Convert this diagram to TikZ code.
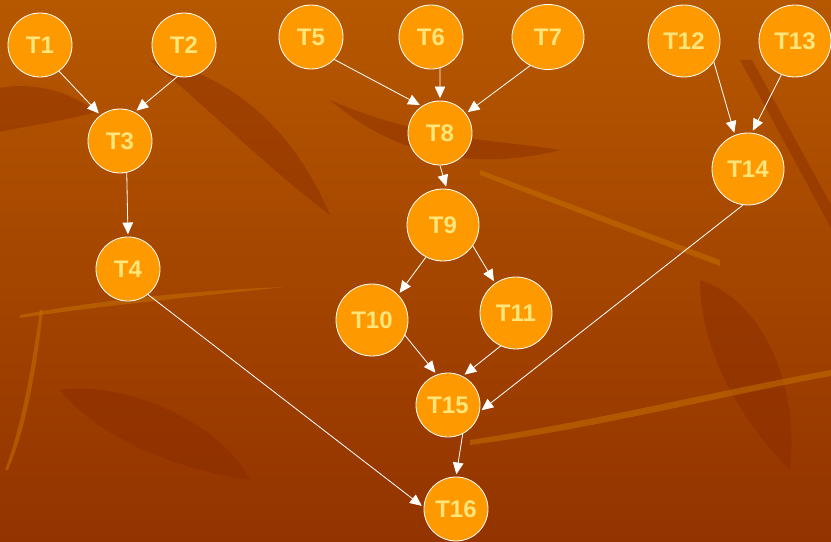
\documentclass[tikz,border=0pt]{standalone}
\usepackage{fontspec}
\setmainfont{Liberation Sans}
\usepackage{xcolor}
\usepackage{tikz}
\usetikzlibrary{arrows.meta,shapes.geometric}
\definecolor{bgtop}{HTML}{B65800}
\definecolor{bgbottom}{HTML}{933300}
\definecolor{leafdark}{HTML}{862800}
\definecolor{leaflight}{HTML}{C87400}
\definecolor{taskfill}{HTML}{FF9900}
\definecolor{tasktext}{HTML}{FFE57A}

\begin{document}
\begin{tikzpicture}[x=0.03cm, y=-0.03cm, thick]
    \tikzstyle{task} = [circle, draw=white, line width=0.7pt, fill=taskfill, text=tasktext, minimum size=1.92cm, inner sep=0pt, font=\fontsize{20.5}{20.5}\selectfont\bfseries]
    \tikzstyle{bigtask} = [task, minimum size=2.16cm]
    \tikzstyle{line} = [draw=white, line width=0.7pt, -{Triangle[length=10pt,width=9pt]}, shorten >=2pt]
    \tikzstyle{leaf} = [fill=leafdark, opacity=0.4]
    \tikzstyle{streak} = [fill=leaflight, opacity=0.5]

    % background with a few leaves
    \useasboundingbox (0,0) rectangle (831,542);
    \fill [top color=bgtop, bottom color=bgbottom] (0,0) rectangle (831,542);
    \path [leaf] (0,88) .. controls (30,82) and (70,90) .. (95,112) .. controls (60,122) and (25,126) .. (0,132) -- cycle;
    \path [leaf] (150,60) .. controls (220,70) and (290,120) .. (330,215) .. controls (270,170) and (210,110) .. (150,60) -- cycle;
    \path [leaf] (330,100) .. controls (420,140) and (500,140) .. (560,150) .. controls (480,170) and (400,160) .. (330,100) -- cycle;
    \path [leaf] (60,390) .. controls (120,380) and (220,420) .. (250,480) .. controls (180,470) and (100,440) .. (60,390) -- cycle;
    \path [leaf] (700,280) .. controls (760,300) and (800,380) .. (790,470) .. controls (740,420) and (700,350) .. (700,280) -- cycle;
    \path [leaf] (740,60) -- (752,60) -- (831,205) -- (831,228) -- cycle;
    \path [streak] (20,315) .. controls (100,300) and (200,290) .. (285,287) .. controls (200,296) and (100,306) .. (20,318) -- cycle;
    \path [streak] (40,310) .. controls (30,380) and (20,430) .. (5,470) -- (8,470) .. controls (25,430) and (35,380) .. (43,310) -- cycle;
    \path [streak] (480,170) .. controls (560,200) and (640,230) .. (720,260) -- (720,266) .. controls (640,236) and (560,206) .. (480,175) -- cycle;
    \path [streak] (470,440) .. controls (600,420) and (720,390) .. (831,370) -- (831,376) .. controls (720,396) and (600,428) .. (470,445) -- cycle;

    % tasks
    \node [task] (t1) at (40,45) {T1};
    \node [task] (t2) at (184,45) {T2};
    \node [task] (t3) at (120,141) {T3};
    \node [task] (t4) at (128,269) {T4};
    \node [task] (t5) at (311,37) {T5};
    \node [task] (t6) at (431,37) {T6};
    \node [task, ellipse, minimum width=2.16cm, minimum height=1.95cm] (t7) at (548,37) {T7};
    \node [task] (t8) at (440,133) {T8};
    \node [bigtask] (t9) at (443,225) {T9};
    \node [bigtask] (t10) at (372,320) {T10};
    \node [bigtask] (t11) at (516,313) {T11};
    \node [bigtask] (t12) at (684,41) {T12};
    \node [bigtask] (t13) at (795,41) {T13};
    \node [bigtask] (t14) at (748,169) {T14};
    \node [task] (t15) at (448,405) {T15};
    \node [task] (t16) at (456,509) {T16};

    % dependencies
    \path [line] (t1.-54) -- (t3.127);
    \path [line] (t2.-102) -- (t3.63);
    \path [line] (t3.-78) -- (t4.north);
    \path [line] (t4.-52) -- (t16.177);
    \path [line] (t5.-44) -- (t8.124);
    \path [line] (t6.-74) -- (t8.north);
    \path [line] (t7.-122) -- (t8.37);
    \path [line] (t8.south) -- (t9.84);
    \path [line] (t9.-118) -- (t10.44);
    \path [line] (t9.-35) -- (t11.125);
    \path [line] (t10.-25) -- (t15.110);
    \path [line] (t11.-115) -- (t15.63);
    \path [line] (t12.-35) -- (t14.111);
    \path [line] (t13.-112) -- (t14.84);
    \path [line] (t14.-98) -- (t15.-12);
    \path [line] (t15.-63) -- (t16.north);
\end{tikzpicture}
\end{document}
